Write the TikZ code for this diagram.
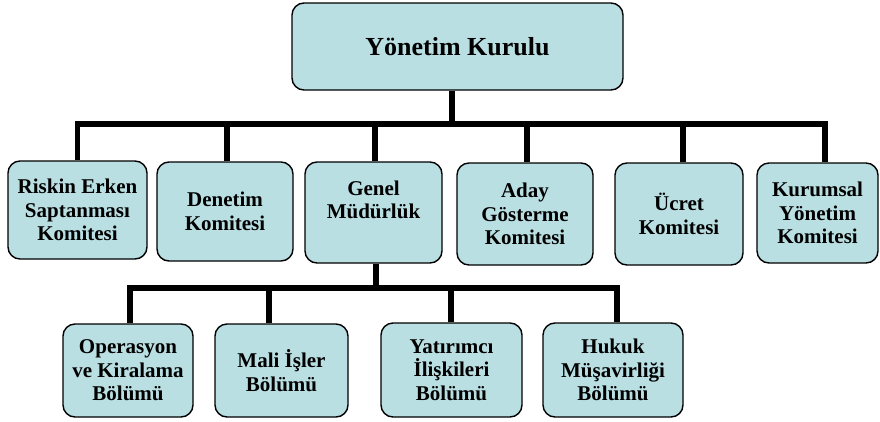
\documentclass[tikz,border=0pt]{standalone}
\usepackage{fontspec}
\setmainfont{Liberation Serif}
\usepackage{tikz}
\definecolor{kutumavi}{RGB}{185,223,227}

\begin{document}
\begin{tikzpicture}[x=1pt,y=-1pt,
        kutu/.style={draw, line width=1.4pt, fill=kutumavi, rounded corners=12pt,
          align=center, inner sep=0pt, font=\fontsize{21}{23.5}\selectfont\bfseries},
        hat/.style={line width=5.5pt}]
        \useasboundingbox (0,0) rectangle (880,421);

        \node[kutu, minimum width=331pt, minimum height=87pt,
          font=\fontsize{26}{30}\selectfont\bfseries] (yk) at (457.5,46.5) {Yönetim Kurulu};

        \node[kutu, minimum width=139pt, minimum height=98pt] (r1) at (77.5,210) {Riskin Erken\\Saptanması\\Komitesi};
        \node[kutu, minimum width=136pt, minimum height=99pt] (r2) at (225,211.5) {Denetim\\Komitesi};
        \node[kutu, minimum width=137pt, minimum height=101pt] (r3) at (373.5,212.5) {Genel\\Müdürlük\\[2pt]};
        \node[kutu, minimum width=136pt, minimum height=102pt] (r4) at (525,214) {Aday\\Gösterme\\Komitesi};
        \node[kutu, minimum width=128pt, minimum height=102pt] (r5) at (679,214) {Ücret\\Komitesi};
        \node[kutu, minimum width=121pt, minimum height=100pt] (r6) at (817.5,213) {Kurumsal\\Yönetim\\Komitesi};

        \node[kutu, minimum width=130pt, minimum height=93pt] (s1) at (128,370.5) {Operasyon\\ve Kiralama\\Bölümü};
        \node[kutu, minimum width=133pt, minimum height=93pt] (s2) at (281.5,370.5) {Mali İşler\\Bölümü};
        \node[kutu, minimum width=141pt, minimum height=94pt] (s3) at (451.5,370) {Yatırımcı\\İlişkileri\\Bölümü};
        \node[kutu, minimum width=140pt, minimum height=94pt] (s4) at (613,370) {Hukuk\\Müşavirliği\\Bölümü};

        \coordinate (bar1) at (0,124); % Committee level.
        \coordinate (bar2) at (0,288); % Department level.

        \draw[hat] ([xshift=-5.5pt]yk.south) -- ([xshift=-5.5pt]yk.south |- bar1);
        \draw[hat] (r1.north) |- ([xshift=7.5pt]r6.north |- bar1) -- ([xshift=7.5pt]r6.north);
        \foreach \n/\dx in {r2/2,r3/1.5,r4/2,r5/4}
          \draw[hat] ([xshift=\dx pt]\n.north) -- ([xshift=\dx pt]\n.north |- bar1);

        \draw[hat] ([xshift=2.5pt]r3.south) -- ([xshift=2.5pt]r3.south |- bar2);
        \draw[hat] ([xshift=2pt]s1.north) |- ([xshift=4pt]s4.north |- bar2) -- ([xshift=4pt]s4.north);
        \foreach \n/\dx in {s2/-12.5,s3/-0.5}
          \draw[hat] ([xshift=\dx pt]\n.north) -- ([xshift=\dx pt]\n.north |- bar2);
      \end{tikzpicture}
\end{document}
